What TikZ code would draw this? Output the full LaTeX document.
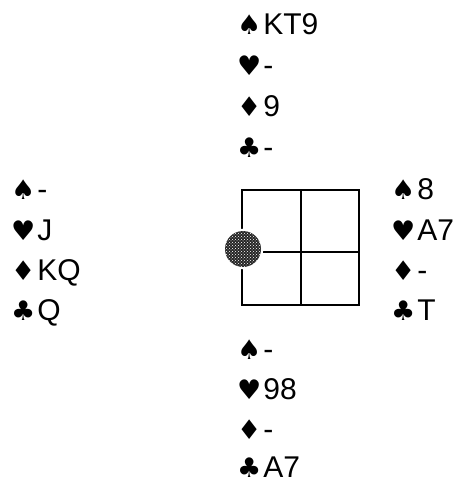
\documentclass[tikz,border=0pt]{standalone}
\usepackage{fontspec}
\setmainfont{Liberation Sans}
\newfontfamily\suitfont{DejaVu Sans}
\usetikzlibrary{patterns}
\tikzset{
  hand/.style={anchor=base west, inner sep=0pt, font=\fontsize{30}{30}\selectfont},
  grid/.style={line width=1.7pt},
}
\newcommand{\suitS}{{\suitfont\fontsize{27}{27}\selectfont ♠}\kern2pt}
\newcommand{\suitH}{{\suitfont\fontsize{27}{27}\selectfont ♥}\kern2pt}
\newcommand{\suitD}{{\suitfont\fontsize{27}{27}\selectfont ♦}\kern2pt}
\newcommand{\suitC}{{\suitfont\fontsize{27}{27}\selectfont ♣}\kern2pt}
\begin{document}
\begin{tikzpicture}[x=1pt,y=-1pt]
\useasboundingbox (0,0) rectangle (456,484);
% North
\node[hand] (n1) at (237,35) {\suitS KT9};
\node[hand] (n2) at (237,76) {\suitH -};
\node[hand] (n3) at (237,117) {\suitD 9};
\node[hand] (n4) at (237,157) {\suitC -};
% West
\node[hand] (w1) at (11,199) {\suitS -};
\node[hand] (w2) at (11,240) {\suitH J};
\node[hand] (w3) at (11,280) {\suitD KQ};
\node[hand] (w4) at (11,320) {\suitC Q};
% East
\node[hand] (e1) at (391,199) {\suitS 8};
\node[hand] (e2) at (391,240) {\suitH A7};
\node[hand] (e3) at (391,280) {\suitD -};
\node[hand] (e4) at (391,320) {\suitC T};
% South
\node[hand] (s1) at (237,359) {\suitS -};
\node[hand] (s2) at (237,399) {\suitH 98};
\node[hand] (s3) at (237,439) {\suitD -};
\node[hand] (s4) at (237,477) {\suitC A7};
% table
\draw[grid] (242,190) rectangle (359,305);
\draw[grid] (301,190) -- (301,305);
\draw[grid] (242,252) -- (359,252);
\node[circle, minimum size=39pt, inner sep=0pt, fill=white, draw=white, line width=1.5pt] (dealer) at (243,249) {};
\fill[black!85] (dealer.center) circle (18pt);
\fill[pattern=crosshatch dots, pattern color=white] (dealer.center) circle (18pt);
\end{tikzpicture}
\end{document}
